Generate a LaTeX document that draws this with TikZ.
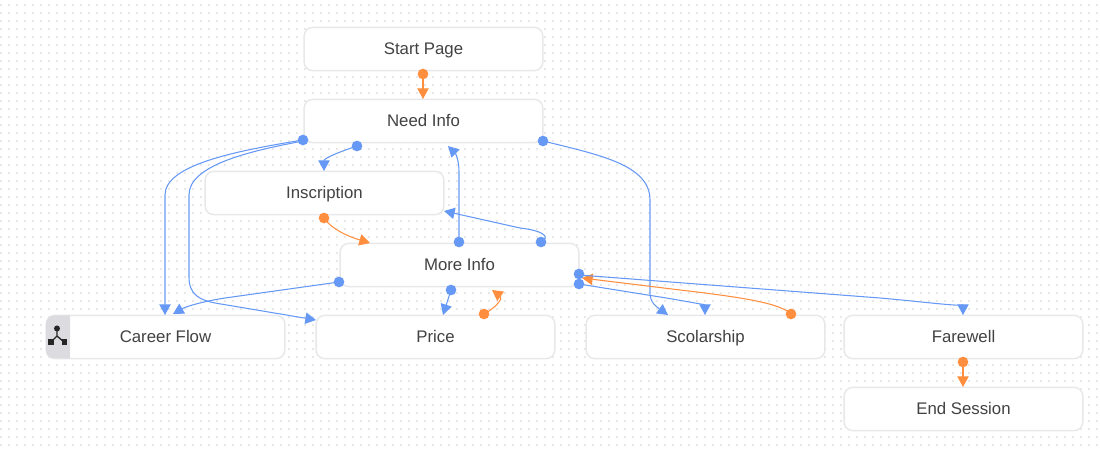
\documentclass[tikz,border=0pt]{standalone}
\usepackage{fontspec}
\setmainfont{Liberation Sans}
\usetikzlibrary{arrows.meta}

\definecolor{linkblue}{HTML}{6699F5}
\definecolor{linkorange}{HTML}{FF8F3F}
\definecolor{boxedge}{HTML}{E8E8EA}
\definecolor{griddot}{HTML}{E8E8E8}
\definecolor{tabgray}{HTML}{DCDCE0}
\definecolor{boxtext}{HTML}{424242}

\tikzset{
	boxlabel/.style={text=boxtext, text height=9pt, text depth=0pt, inner sep=0pt, font=\fontsize{12.6}{14}\selectfont},
	statebox/.style={boxlabel, draw=boxedge, line width=1.1pt, fill=white, rounded corners=6.5pt, minimum width=179pt, minimum height=32.5pt},
	blueport/.style={circle, fill=linkblue, minimum size=8pt, inner sep=0pt},
	orangeport/.style={circle, fill=linkorange, minimum size=8pt, inner sep=0pt},
	bluelink/.style={draw=linkblue, line width=0.8pt, -{Triangle[length=8pt, width=8.5pt]}},
	orangelink/.style={draw=linkorange, line width=0.8pt, -{Triangle[length=8pt, width=8.5pt]}}
}

\begin{document}
\begin{tikzpicture}[x=0.75pt, y=-0.75pt]
	\useasboundingbox (0, 0) rectangle (1101, 452);

	% Background dots
	\foreach \dotx in {0, 8, ..., 1096} {
		\foreach \doty in {4, 12, ..., 444} {
			\fill[griddot] (\dotx, \doty) rectangle ++(1.7, 1.7);
		}
	}

	% States
	\node[statebox] (start) at (423.5, 49) {Start Page};
	\node[statebox] (need) at (423.5, 121) {Need Info};
	\node[statebox] (inscription) at (324.5, 193) {Inscription};
	\node[statebox] (more) at (459.5, 265) {More Info};
	\node[statebox] (career) at (165.5, 337) {};
	\node[statebox] (price) at (435.5, 337) {Price};
	\node[statebox] (scolarship) at (705.5, 337) {Scolarship};
	\node[statebox] (farewell) at (963.5, 337) {Farewell};
	\node[statebox] (end) at (963.5, 409) {End Session};

	% Career Flow tab
	\fill[tabgray] (70, 315.5) [rounded corners=6.5pt] -- (46, 315.5) -- (46, 358.5) [sharp corners] -- (70, 358.5) -- cycle;
	\node[boxlabel] (careerlabel) at (165.5, 337) {Career Flow};
	\draw[black!85, line width=1pt] (57, 329) -- (57, 336) -- (51, 342) (57, 336) -- (64, 342);
	\fill[black!85] (57, 328.5) circle [radius=3];
	\fill[black!85] (48, 339) rectangle (53.5, 345);
	\fill[black!85] (61.5, 339) rectangle (67, 345);

	% Arrow ends
	\coordinate (needtop) at (423, 99);
	\coordinate (careertop) at (165, 315);
	\coordinate (careerside) at (173, 314);
	\coordinate (priceleft) at (316, 320);
	\coordinate (inscriptiontop) at (324, 171);
	\coordinate (moretop) at (370, 243);
	\coordinate (needbottom) at (448, 146);
	\coordinate (inscriptionright) at (444, 211);
	\coordinate (pricetop) at (443, 315);
	\coordinate (morebottom) at (492, 290);
	\coordinate (scolarshiptop) at (705, 315);
	\coordinate (scolarshipleft) at (668, 315);
	\coordinate (moreright) at (582, 278);
	\coordinate (farewelltop) at (963, 315);
	\coordinate (endtop) at (963, 387);

	% Links
	\draw[orangelink] (423, 74) -- (needtop);
	\draw[bluelink] (303, 140) .. controls (235, 151) and (165, 165) .. (165, 195) -- (careertop);
	\draw[bluelink] (303, 141) .. controls (250, 151) and (189, 165) .. (189, 195) -- (189, 277) .. controls (189, 295) and (200, 300) .. (215, 303) -- (priceleft);
	\draw[bluelink] (357, 146) .. controls (342, 151) and (324, 158) .. (inscriptiontop);
	\draw[orangelink] (324, 218) .. controls (332, 230) and (350, 237) .. (moretop);
	\draw[bluelink] (459, 242) -- (459, 172) .. controls (459, 161) and (456, 154) .. (needbottom);
	\draw[bluelink] (541, 242) .. controls (550, 238) and (546, 231) .. (520, 228) -- (inscriptionright);
	\draw[bluelink] (339, 282) -- (225, 298) .. controls (200, 302) and (185, 307) .. (careerside);
	\draw[bluelink] (451, 290) -- (pricetop);
	\draw[orangelink] (484, 314) .. controls (497, 307) and (503, 298) .. (morebottom);
	\draw[bluelink] (579, 284) -- (660, 297) .. controls (685, 301) and (705, 305) .. (scolarshiptop);
	\draw[bluelink] (543, 141) .. controls (600, 155) and (650, 165) .. (650, 200) -- (650, 293) .. controls (650, 303) and (657, 307) .. (scolarshipleft);
	\draw[orangelink] (791, 314) .. controls (780, 303) and (740, 297) .. (680, 290) -- (moreright);
	\draw[bluelink] (579, 275) -- (880, 298) .. controls (925, 302) and (963, 307) .. (farewelltop);
	\draw[orangelink] (963, 362) -- (endtop);

	% Connection Nodes
	\node[orangeport] (startout) at (423, 74) {};
	\node[blueport] (needleft) at (303, 140) {};
	\node[blueport] (needin) at (357, 146) {};
	\node[blueport] (needright) at (543, 141) {};
	\node[orangeport] (inscriptionout) at (324, 218) {};
	\node[blueport] (moreup) at (459, 242) {};
	\node[blueport] (moreback) at (541, 242) {};
	\node[blueport] (moreleft) at (339, 282) {};
	\node[blueport] (moredown) at (451, 290) {};
	\node[blueport] (morefare) at (579, 274) {};
	\node[blueport] (morescol) at (579, 284) {};
	\node[orangeport] (priceout) at (484, 314) {};
	\node[orangeport] (scolarshipout) at (791, 314) {};
	\node[orangeport] (farewellout) at (963, 362) {};
\end{tikzpicture}
\end{document}
